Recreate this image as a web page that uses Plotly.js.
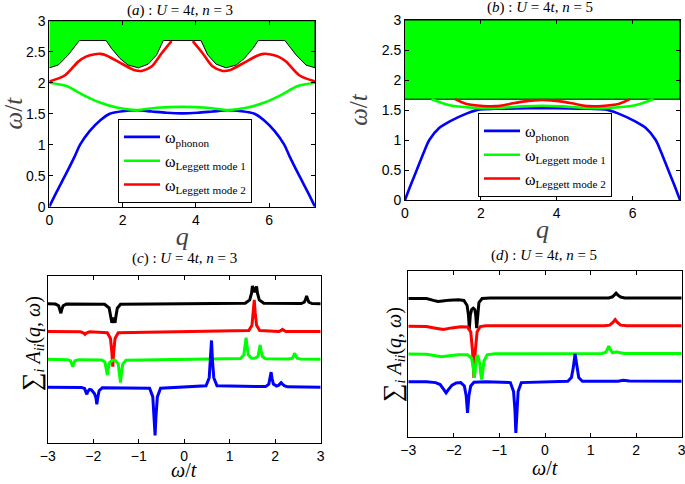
<!DOCTYPE html>
<html>
<head>
<meta charset="utf-8">
<script src="https://cdn.plot.ly/plotly-3.0.1.min.js"></script>
<style>html,body{margin:0;padding:0;background:#fff;}#chart{width:685px;height:484px;}</style>
</head>
<body>
<div id="chart"></div>
<script>
// ---------- Panel (a): U=4t, n=3 ----------
const aPhononQ = [0, 0.2, 0.43, 0.7, 0.84, 1.1, 1.4, 1.65, 2.0, 2.4, 2.8, 3.2, 3.625, 4.05, 4.45, 4.85, 5.25, 5.6, 5.85, 6.15, 6.41, 6.55, 6.82, 7.05, 7.25];
const aPhononW = [0, 0.24, 0.5, 0.82, 1.0, 1.22, 1.4, 1.5, 1.54, 1.555, 1.535, 1.515, 1.505, 1.515, 1.535, 1.555, 1.54, 1.5, 1.4, 1.22, 1.0, 0.82, 0.5, 0.24, 0];
const aL1Q = [0, 0.47, 0.93, 1.38, 1.84, 2.38, 2.93, 3.625, 4.32, 4.87, 5.41, 5.87, 6.32, 6.78, 7.25];
const aL1W = [2.0, 1.946, 1.80, 1.68, 1.60, 1.56, 1.597, 1.61, 1.597, 1.56, 1.60, 1.68, 1.80, 1.946, 2.0];
const aL2aQ = [0, 0.43, 0.79, 1.0, 1.245, 1.4, 1.56, 1.97, 2.335, 2.52, 2.79, 3.06, 3.335];
const aL2aW = [2.02, 2.12, 2.34, 2.42, 2.46, 2.465, 2.44, 2.31, 2.20, 2.19, 2.26, 2.47, 2.67];
const aL2bQ = [3.915, 4.19, 4.46, 4.73, 4.915, 5.28, 5.69, 5.85, 6.005, 6.25, 6.46, 6.82, 7.25];
const aL2bW = [2.67, 2.47, 2.26, 2.19, 2.20, 2.31, 2.44, 2.465, 2.46, 2.42, 2.34, 2.12, 2.02];
const aEdgeQ = [0, 0.245, 0.52, 0.70, 0.82, 1.55, 1.70, 1.93, 2.15, 2.43, 2.70, 2.93, 3.11, 4.14, 4.32, 4.55, 4.82, 5.10, 5.32, 5.55, 5.70, 6.43, 6.55, 6.73, 7.005, 7.25, 7.25, 0];
const aEdgeW = [2.24, 2.285, 2.45, 2.58, 2.68, 2.68, 2.55, 2.39, 2.285, 2.24, 2.30, 2.45, 2.68, 2.68, 2.45, 2.30, 2.24, 2.285, 2.39, 2.55, 2.68, 2.68, 2.58, 2.45, 2.285, 2.24, 3, 3];

// ---------- Panel (b): U=4t, n=5 ----------
const bPhononQ = [0, 0.15, 0.31, 0.5, 0.64, 0.9, 1.18, 1.62, 1.97, 2.4, 2.9, 3.62, 4.35, 4.85, 5.28, 5.63, 6.07, 6.35, 6.61, 6.75, 6.94, 7.1, 7.25];
const bPhononW = [0, 0.25, 0.5, 0.8, 1.0, 1.2, 1.31, 1.44, 1.51, 1.52, 1.525, 1.53, 1.525, 1.52, 1.51, 1.44, 1.31, 1.2, 1.0, 0.8, 0.5, 0.25, 0];
const bL1Q = [0.7, 1.18, 1.62, 2.06, 2.6, 3.1, 3.62, 4.15, 4.65, 5.19, 5.63, 6.07, 6.55];
const bL1W = [1.68, 1.58, 1.545, 1.53, 1.54, 1.56, 1.57, 1.56, 1.54, 1.53, 1.545, 1.58, 1.68];
const bL2Q = [1.32, 1.62, 2.06, 2.4, 2.76, 3.1, 3.62, 4.15, 4.49, 4.85, 5.19, 5.63, 5.93];
const bL2W = [1.68, 1.6, 1.567, 1.565, 1.6, 1.64, 1.667, 1.64, 1.6, 1.565, 1.567, 1.6, 1.68];
const bEdgeQ = [0, 7.25, 7.25, 0];
const bEdgeW = [1.68, 1.68, 3, 3];

// ---------- Panel (c): spectra, U=4t, n=3 ----------
const cBlackX = [-3, -2.83, -2.76, -2.73, -2.71, -2.69, -2.66, -2.59, -1.75, -1.65, -1.61, -1.59, -1.555, -1.52, -1.50, -1.47, -1.40, 1.34, 1.44, 1.48, 1.50, 1.545, 1.59, 1.61, 1.65, 1.75, 2.57, 2.64, 2.67, 2.69, 2.71, 2.74, 2.81, 3];
const cBlackY = [5, 4.99, 4.93, 4.80, 4.66, 4.80, 4.93, 4.99, 4.98, 4.85, 4.55, 4.32, 4.5, 4.32, 4.55, 4.84, 4.98, 5.02, 5.14, 5.38, 5.64, 5.42, 5.62, 5.38, 5.14, 5.02, 5.01, 5.06, 5.17, 5.28, 5.17, 5.06, 5.01, 5];
const cRedX = [-3, -2.28, -2.21, -2.18, -2.15, -2.08, -1.69, -1.62, -1.59, -1.57, -1.55, -1.52, -1.45, 1.42, 1.49, 1.52, 1.54, 1.56, 1.59, 1.66, 2.08, 2.13, 2.16, 2.19, 2.24, 3];
const cRedY = [4, 3.99, 3.95, 3.9, 3.95, 3.99, 3.96, 3.75, 3.25, 2.74, 3.25, 3.75, 3.96, 4.04, 4.23, 4.68, 5.14, 4.68, 4.23, 4.04, 4.0, 4.04, 4.08, 4.04, 4.0, 4];
const cGreenX = [-3, -2.57, -2.50, -2.47, -2.45, -2.43, -2.40, -2.33, -1.81, -1.74, -1.71, -1.69, -1.67, -1.64, -1.57, -1.52, -1.45, -1.42, -1.40, -1.38, -1.35, -1.28, 1.24, 1.31, 1.34, 1.36, 1.38, 1.41, 1.48, 1.55, 1.62, 1.65, 1.67, 1.69, 1.72, 1.79, 2.31, 2.38, 2.41, 2.43, 2.45, 2.48, 2.55, 3];
const cGreenY = [3, 2.99, 2.95, 2.84, 2.74, 2.84, 2.95, 2.99, 2.98, 2.89, 2.66, 2.44, 2.66, 2.89, 2.97, 2.97, 2.83, 2.5, 2.16, 2.5, 2.83, 2.97, 3.03, 3.16, 3.47, 3.78, 3.47, 3.16, 3.04, 3.04, 3.1, 3.31, 3.52, 3.31, 3.1, 3.02, 3.01, 3.04, 3.13, 3.22, 3.13, 3.04, 3.01, 3];
const cBlueX = [-3, -2.26, -2.19, -2.16, -2.14, -2.12, -2.08, -2.04, -1.97, -1.94, -1.92, -1.90, -1.87, -1.80, -0.76, -0.69, -0.66, -0.64, -0.62, -0.59, -0.52, 0.48, 0.55, 0.58, 0.60, 0.62, 0.65, 0.72, 1.79, 1.86, 1.89, 1.91, 1.93, 1.96, 2.03, 2.07, 2.10, 2.13, 2.16, 2.20, 2.27, 3];
const cBlueY = [2, 1.99, 1.95, 1.84, 1.74, 1.84, 1.92, 1.9, 1.76, 1.62, 1.38, 1.62, 1.87, 1.98, 1.96, 1.65, 0.96, 0.26, 0.96, 1.65, 1.96, 2.05, 2.34, 3.0, 3.68, 3.0, 2.34, 2.05, 2.02, 2.11, 2.32, 2.54, 2.32, 2.11, 2.04, 2.06, 2.11, 2.16, 2.11, 2.05, 2.01, 2];

// ---------- Panel (d): spectra, U=4t, n=5 ----------
const dBlackX = [-3, -2.6, -2.45, -2.35, -2.25, -2.1, -1.9, -1.78, -1.71, -1.68, -1.66, -1.64, -1.61, -1.575, -1.54, -1.52, -1.50, -1.48, -1.45, -1.38, -1.2, 1.4, 1.48, 1.53, 1.56, 1.60, 1.66, 1.75, 3];
const dBlackY = [5, 5.0, 4.93, 4.89, 4.91, 4.94, 4.95, 4.93, 4.75, 4.4, 3.9, 4.4, 4.6, 4.65, 4.6, 4.4, 3.93, 4.4, 4.85, 5.0, 5.02, 5.02, 5.06, 5.14, 5.19, 5.12, 5.05, 5.02, 5.02];
const dRedX = [-3, -2.6, -2.4, -2.23, -2.05, -1.85, -1.7, -1.63, -1.59, -1.56, -1.53, -1.49, -1.42, -1.3, 1.3, 1.42, 1.49, 1.54, 1.59, 1.66, 1.8, 3];
const dRedY = [4, 3.99, 3.93, 3.88, 3.94, 3.98, 3.97, 3.8, 3.1, 2.14, 3.1, 3.8, 3.99, 4.02, 4.02, 4.04, 4.14, 4.24, 4.14, 4.04, 4.02, 4.02];
const dGreenX = [-3, -2.6, -2.4, -2.27, -2.1, -1.9, -1.7, -1.61, -1.57, -1.55, -1.53, -1.50, -1.47, -1.43, -1.41, -1.39, -1.37, -1.34, -1.27, -1.1, 1.25, 1.33, 1.37, 1.40, 1.43, 1.48, 1.53, 1.57, 1.62, 1.75, 3];
const dGreenY = [3, 2.99, 2.94, 2.9, 2.94, 2.97, 2.97, 2.85, 2.45, 2.14, 2.45, 2.9, 2.92, 2.65, 2.3, 2.08, 2.3, 2.75, 2.97, 3.01, 3.02, 3.06, 3.17, 3.29, 3.17, 3.04, 3.06, 3.08, 3.05, 3.02, 3.02];
const dBlueX = [-3, -2.6, -2.4, -2.3, -2.22, -2.17, -2.12, -2.04, -1.95, -1.85, -1.77, -1.73, -1.70, -1.67, -1.63, -1.56, -1.3, -0.76, -0.69, -0.66, -0.64, -0.62, -0.59, -0.52, 0.5, 0.58, 0.62, 0.66, 0.70, 0.74, 0.82, 1.6, 1.72, 1.85, 3];
const dBlueY = [2, 2.0, 1.97, 1.9, 1.72, 1.6, 1.72, 1.88, 1.96, 1.97, 1.85, 1.5, 0.88, 1.5, 1.85, 1.98, 2.0, 1.97, 1.65, 1.0, 0.16, 1.0, 1.65, 1.97, 2.02, 2.15, 2.5, 3.0, 2.5, 2.15, 2.02, 2.02, 2.05, 2.03, 2.02];

const legendNames = ['ω<sub>phonon</sub>', 'ω<sub>Leggett mode 1</sub>', 'ω<sub>Leggett mode 2</sub>'];
const qTicks = [0, 2, 4, 6];
const wTicks = [0, 0.5, 1, 1.5, 2, 2.5, 3];
const sTicks = [-3, -2, -1, 0, 1, 2, 3];

const BLUE = '#0000ff', GREEN = '#00ff00', RED = '#ff0000', BLACK = '#000000';

function curve(x, y, color, xa, ya, extra) {
  return Object.assign({x: x, y: y, type: 'scatter', mode: 'lines',
    line: {color: color, width: 2.6, shape: 'spline', smoothing: 0.8},
    xaxis: xa, yaxis: ya, showlegend: false, hoverinfo: 'skip'}, extra || {});
}
function spec(x, y, color, xa, ya) {
  return {x: x, y: y, type: 'scatter', mode: 'lines', line: {color: color, width: 3},
    xaxis: xa, yaxis: ya, showlegend: false, hoverinfo: 'skip'};
}
function fillPoly(x, y, xa, ya) {
  return {x: x, y: y, type: 'scatter', mode: 'lines', fill: 'toself', fillcolor: GREEN,
    line: {color: BLACK, width: 1}, xaxis: xa, yaxis: ya, showlegend: false, hoverinfo: 'skip'};
}

const traces = [
  fillPoly(aEdgeQ, aEdgeW, 'x', 'y'),
  curve(aPhononQ, aPhononW, BLUE, 'x', 'y', {name: legendNames[0], showlegend: true, legend: 'legend'}),
  curve(aL1Q, aL1W, GREEN, 'x', 'y', {name: legendNames[1], showlegend: true, legend: 'legend'}),
  curve(aL2aQ, aL2aW, RED, 'x', 'y', {name: legendNames[2], showlegend: true, legend: 'legend'}),
  curve(aL2bQ, aL2bW, RED, 'x', 'y'),

  fillPoly(bEdgeQ, bEdgeW, 'x2', 'y2'),
  curve(bPhononQ, bPhononW, BLUE, 'x2', 'y2', {name: legendNames[0], showlegend: true, legend: 'legend2'}),
  curve(bL1Q, bL1W, GREEN, 'x2', 'y2', {name: legendNames[1], showlegend: true, legend: 'legend2'}),
  curve(bL2Q, bL2W, RED, 'x2', 'y2', {name: legendNames[2], showlegend: true, legend: 'legend2'}),

  spec(cBlackX, cBlackY, BLACK, 'x3', 'y3'),
  spec(cRedX, cRedY, RED, 'x3', 'y3'),
  spec(cGreenX, cGreenY, GREEN, 'x3', 'y3'),
  spec(cBlueX, cBlueY, BLUE, 'x3', 'y3'),

  spec(dBlackX, dBlackY, BLACK, 'x4', 'y4'),
  spec(dRedX, dRedY, RED, 'x4', 'y4'),
  spec(dGreenX, dGreenY, GREEN, 'x4', 'y4'),
  spec(dBlueX, dBlueY, BLUE, 'x4', 'y4')
];

const tickFont = {family: 'Liberation Sans, Arial, sans-serif', size: 14, color: '#000'};
const serif = 'Liberation Serif, Times New Roman, serif';

function axisBase(extra) {
  return Object.assign({showline: true, mirror: 'ticks', linecolor: '#000', linewidth: 1,
    ticks: 'inside', ticklen: 4, tickcolor: '#000', showgrid: false, zeroline: false,
    tickfont: tickFont, fixedrange: true, ticklabeloverflow: 'allow'}, extra);
}

const W = 685, H = 484;
function dx(l, r) { return [l / W, r / W]; }
function dy(top, bottom) { return [(H - bottom) / H, (H - top) / H]; }

const sumTitle = '<span style="font-size:26px">∑</span><sub><i>i</i></sub> <i>A<sub>ii</sub></i>(<i>q</i>, <i>ω</i>)';
const wtTitle = '<i>ω</i>/<i>t</i>';

const layout = {
  width: W, height: H,
  margin: {l: 0, r: 0, t: 0, b: 0},
  paper_bgcolor: '#fff', plot_bgcolor: '#fff',
  showlegend: true,
  xaxis: axisBase({domain: dx(49.3, 315), range: [0, 7.25], tickvals: qTicks, anchor: 'y',
    title: {text: '<i>q</i>', font: {family: serif, size: 26}, standoff: 0}}),
  yaxis: axisBase({domain: dy(20.7, 206.7), range: [0, 3], tickvals: wTicks, anchor: 'x',
    title: {text: wtTitle, font: {family: serif, size: 25}, standoff: 6}}),
  xaxis2: axisBase({domain: dx(405, 680), range: [0, 7.25], tickvals: qTicks, anchor: 'y2',
    title: {text: '<i>q</i>', font: {family: serif, size: 26}, standoff: 0}}),
  yaxis2: axisBase({domain: dy(20, 200), range: [0, 3], tickvals: wTicks, anchor: 'x2',
    title: {text: wtTitle, font: {family: serif, size: 25}, standoff: 6}}),
  xaxis3: axisBase({domain: dx(47.7, 320.7), range: [-3, 3], tickvals: sTicks, anchor: 'y3'}),
  yaxis3: axisBase({domain: dy(276, 442.7), range: [0, 6], ticks: '', showticklabels: false, anchor: 'x3'}),
  xaxis4: axisBase({domain: dx(408.3, 681.7), range: [-3, 3], tickvals: sTicks, anchor: 'y4'}),
  yaxis4: axisBase({domain: dy(270.7, 437.3), range: [0, 6], ticks: '', showticklabels: false, anchor: 'x4'}),
  legend: {x: 118 / W, y: (H - 119) / H, xanchor: 'left', yanchor: 'top', bgcolor: '#fff',
    bordercolor: '#000', borderwidth: 1, font: {family: serif, size: 16, color: '#000'},
    itemwidth: 36, tracegroupgap: 0},
  legend2: {x: 478 / W, y: (H - 113) / H, xanchor: 'left', yanchor: 'top', bgcolor: '#fff',
    bordercolor: '#000', borderwidth: 1, font: {family: serif, size: 16, color: '#000'},
    itemwidth: 36, tracegroupgap: 0},
  annotations: [
    {text: '(<i>a</i>) : <i>U</i> = 4<i>t</i>, <i>n</i> = 3', x: 180 / W, y: (H - 10) / H},
    {text: '(<i>b</i>) : <i>U</i> = 4<i>t</i>, <i>n</i> = 5', x: 540 / W, y: (H - 8) / H},
    {text: '(<i>c</i>) : <i>U</i> = 4<i>t</i>, <i>n</i> = 3', x: 184 / W, y: (H - 258) / H},
    {text: '(<i>d</i>) : <i>U</i> = 4<i>t</i>, <i>n</i> = 5', x: 544 / W, y: (H - 255) / H},
    {text: sumTitle, x: 32 / W, y: (H - 343) / H, textangle: -90, font: {family: serif, size: 20, color: '#000'}},
    {text: sumTitle, x: 393 / W, y: (H - 355) / H, textangle: -90, font: {family: serif, size: 20, color: '#000'}},
    {text: wtTitle, x: 184 / W, y: (H - 470) / H, font: {family: serif, size: 20, color: '#000'}},
    {text: wtTitle, x: 545 / W, y: (H - 468) / H, font: {family: serif, size: 20, color: '#000'}}
  ].map(a => Object.assign({xref: 'paper', yref: 'paper', showarrow: false, xanchor: 'center', yanchor: 'middle',
    font: {family: serif, size: 15, color: '#000'}}, a))
};

Plotly.newPlot('chart', traces, layout, {displayModeBar: false, staticPlot: true});
</script>
</body>
</html>
